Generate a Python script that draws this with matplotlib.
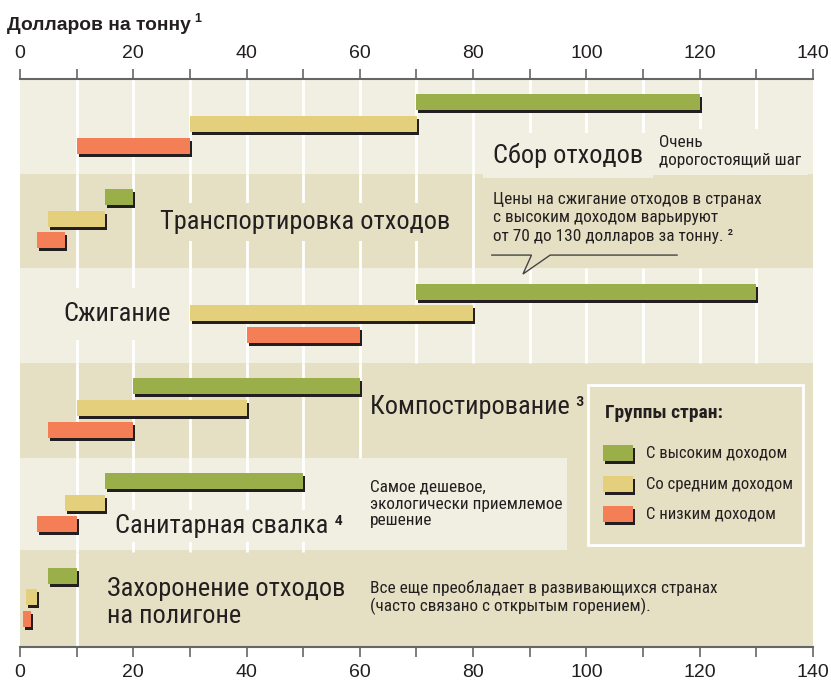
import matplotlib
matplotlib.use("Agg")
import matplotlib.pyplot as plt
import matplotlib.transforms as mtransforms
from matplotlib.patches import Rectangle

# Stages (top to bottom) and cost ranges, USD per tonne
stages = ["Сбор отходов", "Транспортировка отходов", "Сжигание",
          "Компостирование", "Санитарная свалка", "Захоронение отходов\nна полигоне"]
high_lo = [70, 15, 70, 20, 15, 5]
high_hi = [120, 20, 130, 60, 50, 10]
mid_lo = [30, 5, 30, 10, 8, 1]
mid_hi = [70, 15, 80, 40, 15, 3]
low_lo = [10, 3, 40, 5, 3, 0.5]
low_hi = [30, 8, 60, 20, 10, 2]
groups = ["С высоким доходом", "Со средним доходом", "С низким доходом"]
xticks = [0, 20, 40, 60, 80, 100, 120, 140]

GREEN, YELLOW, ORANGE = "#9AAE4A", "#E4D07C", "#F47F57"
LIGHT, DARK = "#F1EEE2", "#E5E0C4"
INK = "#231F20"
COND = ["Roboto Condensed", "DejaVu Sans"]
REG = ["Liberation Sans", "DejaVu Sans"]

plt.rcParams["font.family"] = COND

fig = plt.figure(figsize=(8.31, 6.84), dpi=100)
ax = fig.add_axes([20 / 831, 37 / 684, 793 / 831, 568 / 684])
ax.set_xlim(0, 140)
ax.set_ylim(6, 0)

# band backgrounds
band_cols = [LIGHT, DARK, LIGHT, DARK, DARK, DARK]
for i, c in enumerate(band_cols):
    ax.axhspan(i, i + 1, color=c, zorder=0, lw=0)
ax.add_patch(Rectangle((0, 4.0), 96.6, 0.98, fc=LIGHT, lw=0, zorder=0))

# white grid lines, only where the original shows them in each band
grid_bands = [range(10, 140, 10), range(10, 90, 10), range(10, 140, 10),
              range(10, 70, 10), range(10, 60, 10), [10]]
for i, gxs in enumerate(grid_bands):
    ax.vlines(list(gxs), i, i + 1, color="white", lw=2, zorder=1)

shadow = mtransforms.offset_copy(ax.transData, fig=fig, x=2, y=-3, units="dots")
bar_h = 0.169
offsets = [0.245, 0.475, 0.705]
series = [(high_lo, high_hi, GREEN), (mid_lo, mid_hi, YELLOW), (low_lo, low_hi, ORANGE)]
for k, (lo, hi, col) in enumerate(series):
    ys = [i + offsets[k] for i in range(len(stages))]
    widths = [h - l for l, h in zip(lo, hi)]
    ax.barh(ys, widths, left=lo, height=bar_h, color=INK, lw=0, zorder=4, transform=shadow)
    ax.barh(ys, widths, left=lo, height=bar_h, color=col, lw=0, zorder=5)


def label(x, y, s, size, bg, pad=5, **kw):
    ax.text(x, y, s, fontsize=size, color=INK, va="center", ha="left", zorder=3,
            bbox=dict(fc=bg, ec="none", pad=pad), **kw)


big, small = 19, 12.4
label(83.5, 0.81, stages[0], big, LIGHT, pad=7)
label(112.8, 0.77, "Очень\nдорогостоящий шаг", small, LIGHT, linespacing=1.25)
label(24.7, 1.51, stages[1], big, DARK)
label(83.5, 1.465, "Цены на сжигание отходов в странах\nс высоким доходом варьируют\n"
      "от 70 до 130 долларов за тонну. ²", small, DARK, linespacing=1.3)
label(7.6, 2.48, stages[2], big, LIGHT, pad=10)
label(61.8, 3.47, stages[3] + " ³", big, DARK)
label(61.8, 4.49, "Самое дешевое,\nэкологически приемлемое\nрешение", small, LIGHT,
      pad=2, linespacing=1.15)
label(16.8, 4.72, stages[4] + " ⁴", big, LIGHT, pad=3)
label(15.4, 5.53, stages[5], big, DARK, linespacing=1.15)
label(61.8, 5.48, "Все еще преобладает в развивающихся странах\n(часто связано с открытым горением).",
      small, DARK, linespacing=1.12)

# callout pointer
ax.plot([83.3, 90.3, 88.8, 93.6, 116.0], [1.86, 1.86, 2.06, 1.86, 1.86],
        color="#444444", lw=1, zorder=6, solid_joinstyle="miter")

# legend box
ax.add_patch(Rectangle((100.3, 3.23), 37.9, 1.69, fc=DARK, ec="white", lw=2, zorder=6))
ax.text(103.3, 3.53, "Группы стран:", fontsize=14, fontweight="bold", color=INK,
        va="center", zorder=7)
leg_y = [3.95, 4.28, 4.59]
for yy, (lo, hi, col), name in zip(leg_y, series, groups):
    ax.barh([yy], [5.3], left=[103.0], height=bar_h, color=INK, lw=0, zorder=7, transform=shadow)
    ax.barh([yy], [5.3], left=[103.0], height=bar_h, color=col, lw=0, zorder=8)
    ax.text(110.5, yy, name, fontsize=12, color=INK, va="center", zorder=8)

# axes: top and bottom scales
for s in ["left", "right"]:
    ax.spines[s].set_visible(False)
for s in ["top", "bottom"]:
    ax.spines[s].set_color("#666666")
    ax.spines[s].set_linewidth(1.5)
ax.set_yticks([])
ax.set_xticks(xticks)
ax.set_xticks(range(10, 140, 20), minor=True)
ax.tick_params(axis="x", which="both", top=True, labeltop=True, bottom=True, labelbottom=True,
               direction="out", length=7.5, width=1.2, color="#666666", labelsize=14,
               labelcolor=INK, pad=5)
for t in ax.get_xticklabels():
    t.set_fontfamily(REG)

fig.text(7 / 831, 1 - 25 / 684, "Долларов на тонну", fontsize=13.9, fontweight="bold",
         color=INK, va="center", ha="left", family=REG)
fig.text(194 / 831, 1 - 19 / 684, "1", fontsize=9, fontweight="bold",
         color=INK, va="center", ha="left", family=REG)

fig.savefig("out.png", dpi=100)
